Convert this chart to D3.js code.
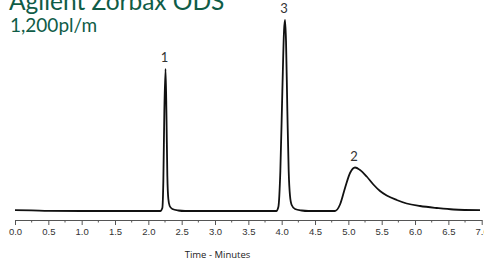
<!DOCTYPE html>
<html>
<head>
<meta charset="utf-8">
<script src="https://cdn.jsdelivr.net/npm/d3@7"></script>
<style>
  body { margin: 0; background: #fff; }
  svg { display: block; }
</style>
</head>
<body>
<div id="board"></div>
<script>
// chromatogram: [minutes, signal]
var trace = [
  [0.0, 0.8], [0.25, 0.6], [0.5, 0.2], [1.0, 0], [1.5, 0], [2.0, 0], [2.18, 0],
  [2.21, 3], [2.225, 30], [2.24, 100], [2.258, 142], [2.272, 95], [2.285, 35],
  [2.30, 12], [2.32, 5], [2.36, 2], [2.45, 0.5], [2.55, 0],
  [3.0, 0], [3.5, 0], [3.92, 0],
  [3.95, 4], [3.98, 40], [4.01, 120], [4.035, 180], [4.05, 191], [4.065, 170],
  [4.085, 100], [4.105, 40], [4.125, 15], [4.15, 6], [4.2, 2], [4.3, 0.5], [4.4, 0],
  [4.6, 0], [4.8, 0],
  [4.875, 6.5], [4.95, 23], [5.025, 38], [5.10, 43.5], [5.175, 41], [5.275, 34.5],
  [5.375, 26.5], [5.475, 20], [5.575, 15.5], [5.725, 11], [5.875, 7.5], [6.075, 5],
  [6.325, 3], [6.575, 1.5], [6.975, 0.8]
];

var peaks = [
  {name: '1', t: 2.258, h: 142},
  {name: '3', t: 4.05, h: 191},
  {name: '2', t: 5.10, h: 43.5}
];

var majorTicks = [0, 0.5, 1, 1.5, 2, 2.5, 3, 3.5, 4, 4.5, 5, 5.5, 6, 6.5, 7];
var minorTicks = [0.25, 0.75, 1.25, 1.75, 2.25, 2.75, 3.25, 3.75, 4.25, 4.75, 5.25, 5.75, 6.25, 6.75];

var titleLines = ['Agilent Zorbax ODS', '1,200pl/m'];
var xTitle = 'Time - Minutes';

var W = 484, H = 260;
var svg = d3.select('#board').append('svg')
    .attr('width', W)
    .attr('height', H);

var x = d3.scaleLinear().domain([0, 7]).range([15, 481.7]);
var y = d3.scaleLinear().domain([0, 200]).range([211, 11]);

// title
svg.append('text')
    .attr('x', 9).attr('y', 10)
    .style('font-family', 'Lato, "Open Sans", sans-serif')
    .style('font-size', '24.5px')
    .style('fill', '#0f5c47')
    .text(titleLines[0]);
svg.append('text')
    .attr('x', 10).attr('y', 31.5)
    .style('font-family', 'Lato, "Open Sans", sans-serif')
    .style('font-size', '19px')
    .style('fill', '#0f5c47')
    .text(titleLines[1]);

// axis
var axisY = 220;
var ax = svg.append('g').attr('transform', 'translate(0,' + axisY + ')');
ax.call(d3.axisBottom(x).tickValues(majorTicks).tickSize(5).tickSizeOuter(0)
    .tickFormat(d3.format('.1f')));
ax.select('.domain').attr('stroke', '#555');
ax.selectAll('.tick line').attr('stroke', '#555');
ax.selectAll('.tick text')
    .attr('dy', '0.75em')
    .style('font-family', '"Liberation Sans Narrow", "Liberation Sans", Arial, sans-serif')
    .style('font-size', '9.5px')
    .style('fill', '#333');

ax.selectAll('.minor')
    .data(minorTicks)
    .enter().append('line')
    .attr('class', 'minor')
    .attr('x1', function(d){ return x(d); })
    .attr('x2', function(d){ return x(d); })
    .attr('y1', 0).attr('y2', 2.5)
    .attr('stroke', '#555');

svg.append('text')
    .attr('x', 217.5).attr('y', 258)
    .attr('text-anchor', 'middle')
    .style('font-family', '"Open Sans", Lato, sans-serif')
    .style('font-size', '9.5px')
    .style('fill', '#222')
    .text(xTitle);

// signal
var line = d3.line()
    .x(function(d){ return x(d[0]); })
    .y(function(d){ return y(d[1]); })
    .curve(d3.curveMonotoneX);

svg.append('path')
    .datum(trace)
    .attr('d', line)
    .style('fill', 'none')
    .style('stroke', '#111')
    .style('stroke-width', 1.8)
    .style('stroke-linejoin', 'round');

// peak labels
svg.selectAll('.peak')
    .data(peaks)
    .enter().append('text')
    .attr('class', 'peak')
    .attr('x', function(d){ return x(d.t) - 1; })
    .attr('y', function(d){ return y(d.h) - 7; })
    .attr('text-anchor', 'middle')
    .style('font-family', 'Lato, "Open Sans", sans-serif')
    .style('font-size', '13px')
    .style('fill', '#333')
    .text(function(d){ return d.name; });
</script>
</body>
</html>
